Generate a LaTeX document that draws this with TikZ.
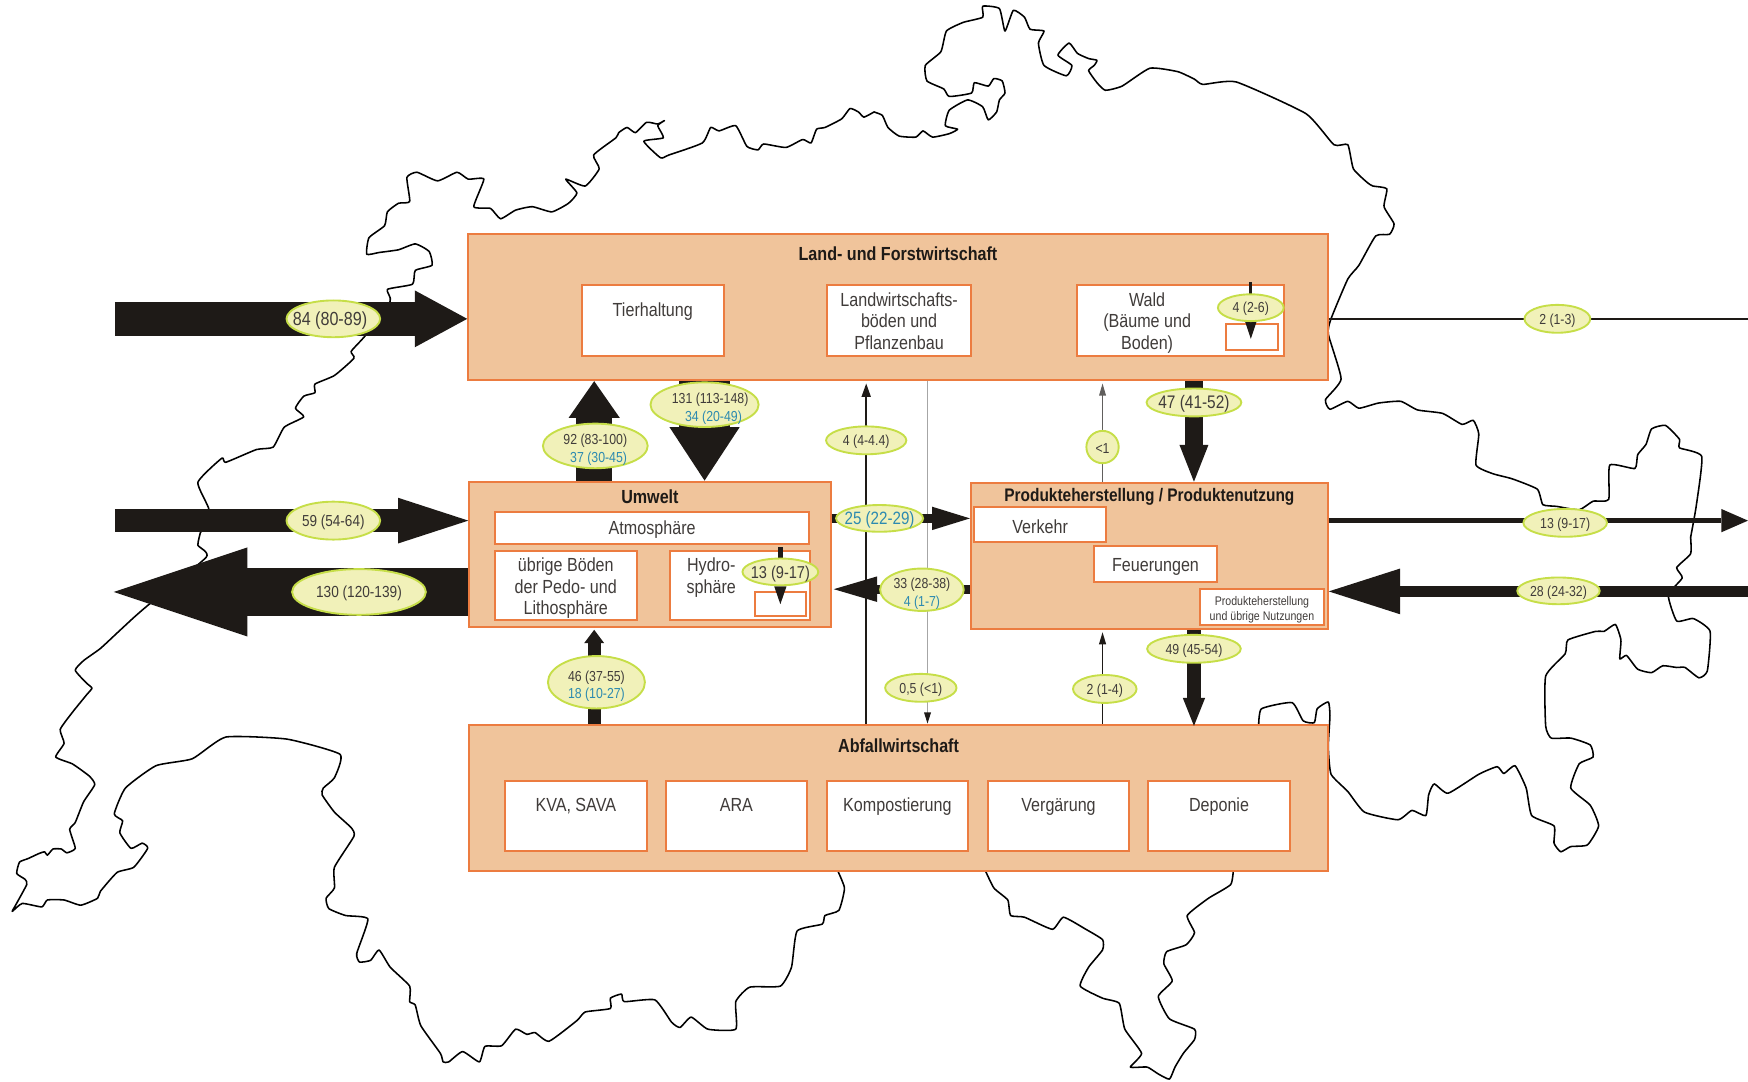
\documentclass[tikz,border=0pt]{standalone}
\usepackage{fontspec}
\setmainfont{Liberation Sans}[FakeStretch=0.85]
\usetikzlibrary{positioning, arrows.meta, shapes.geometric}
\definecolor{sectorfill}{HTML}{F0C49B}
\definecolor{sectorline}{HTML}{EC7C40}
\definecolor{pillfill}{HTML}{F1F1B9}
\definecolor{pillline}{HTML}{C6DE48}
\definecolor{ink}{HTML}{1E1A17}
\definecolor{lowblue}{HTML}{2C8AB0}
\tikzset{flow/.style n args={3}{color=ink, line width=#1, -{Triangle[length=#2,width=#3,line width=0pt]}}}
\newcommand{\pad}{\rule{0pt}{16.5pt}}

\begin{document}
\begin{tikzpicture}[x=1pt,y=-1pt]
    \tikzstyle{every node}=[font=\fontsize{17}{19.5}\selectfont, inner sep=0pt, text=ink!85]
    \tikzstyle{border} = [color=black, line width=1.4pt, line join=round, line cap=round]
    \tikzstyle{sector} = [rectangle, draw=sectorline, fill=sectorfill, line width=1.8pt, minimum width=771pt, minimum height=131pt]
    \tikzstyle{unit} = [rectangle, draw=sectorline, fill=white, line width=1.8pt, minimum width=127pt, minimum height=63pt]
    \tikzstyle{named} = [unit, text height=16pt]
    \tikzstyle{tag} = [anchor=north, align=center, yshift=-16pt]
    \tikzstyle{tagthree} = [anchor=north, align=center, yshift=-7pt]
    \tikzstyle{title} = [anchor=north, font=\fontsize{17}{19}\selectfont\bfseries, text=ink]
    \tikzstyle{pill} = [ellipse, draw=pillline, fill=pillfill, line width=1.7pt, inner xsep=-10pt, inner ysep=-8pt, font=\fontsize{13}{15.5}\selectfont]
    \tikzstyle{pillone} = [pill, text height=12pt]
    \tikzstyle{wire} = [color=ink, line width=1.6pt]
    \tikzstyle{pale} = [color=gray!70, line width=1pt]

    \useasboundingbox (0,0) rectangle (1568,970);

    % outline of the country
    \begin{scope}[xscale=.5,yscale=.309]
        \draw[border] plot[smooth,tension=.3] coordinates {(360,1545) (375,1480) (355,1400) (398,1330) (405,1342) (460,1305) (490,1298) (510,1240) (545,1210) (530,1185) (545,1150) (565,1140) (565,1115) (600,1090) (635,1040) (630,1020) (655,975) (700,875) (695,840) (740,825) (745,785) (775,770) (770,730) (745,708) (715,725) (680,733) (658,738) (662,690) (690,655) (695,615) (715,590) (735,585) (730,515) (748,500) (785,525) (820,500) (840,520) (868,520) (850,600) (880,605) (898,635) (925,610) (955,600) (990,615) (1020,590) (1035,560) (1015,520) (1050,540) (1075,490) (1065,450) (1105,400) (1110,385) (1125,370) (1140,385) (1160,355) (1180,360) (1192,350) (1180,365) (1190,400) (1155,410) (1185,458) (1200,450) (1260,415) (1275,370) (1290,380) (1320,365) (1340,425) (1360,435) (1370,418) (1410,428) (1440,405) (1455,415) (1465,375) (1480,370) (1510,345) (1525,315) (1540,325) (1550,340) (1568,325)};
    \end{scope}
    \begin{scope}[shift={(784,0)},xscale=.5,yscale=.309]
        \draw[border] plot[smooth,tension=.3] coordinates {(0,325) (15,335) (25,370) (45,395) (75,398) (88,380) (105,398) (135,388) (150,375) (128,365) (135,320) (168,290) (195,310) (205,348) (220,325) (225,290) (235,270) (230,235) (215,228) (205,250) (180,240) (175,270) (135,280) (125,258) (95,235) (92,190) (120,150) (130,90) (160,65) (195,50) (195,18) (225,25) (235,90) (250,30) (270,50) (280,85) (305,90) (295,125) (305,190) (345,220) (355,190) (330,160) (350,125) (365,155) (385,170) (400,175) (395,190) (385,205) (400,240) (415,262) (445,250) (495,198) (545,208) (575,230) (590,245) (650,238) (775,330) (825,420) (850,420) (860,490) (885,530) (895,540) (920,548) (915,600) (933,650) (925,680) (900,685) (870,770) (850,810) (820,925) (815,970) (838,1100) (810,1160) (818,1188) (850,1165) (870,1185) (905,1170) (945,1165) (975,1190) (1020,1200) (1055,1232) (1075,1220) (1085,1260) (1080,1350) (1110,1375) (1145,1390) (1190,1420) (1200,1465) (1225,1470) (1265,1480) (1290,1455) (1318,1450) (1320,1350) (1365,1360) (1370,1320) (1385,1290) (1395,1245) (1420,1235) (1445,1275) (1445,1300) (1485,1325) (1475,1470) (1465,1560)};
    \end{scope}
    \begin{scope}[shift={(784,484.4)},xscale=.5,yscale=.309]
        \draw[border] plot[smooth,tension=.3] coordinates {(1465,-8) (1465,40) (1440,80) (1450,110) (1425,160) (1440,235) (1470,228) (1500,265) (1495,380) (1480,400) (1455,370) (1440,370) (1415,365) (1395,385) (1370,375) (1350,335) (1338,345) (1340,290) (1330,245) (1310,265) (1295,265) (1245,290) (1240,330) (1205,395) (1205,540) (1215,575) (1250,575) (1285,595) (1290,630) (1265,650) (1250,720) (1285,770) (1300,830) (1280,885) (1250,890) (1232,905) (1220,880) (1220,830) (1180,800) (1170,720) (1150,655) (1130,678) (1118,658) (1085,680) (1030,735) (1005,708) (995,740) (990,800) (965,785) (940,812) (880,790) (850,730) (820,680) (815,600) (818,510) (815,470) (795,490) (790,530) (770,525) (750,472) (695,490) (690,545)};
        \draw[border] plot[smooth,tension=.3] coordinates {(645,950) (640,1000) (600,1040) (562,1090) (575,1140) (560,1175) (525,1195) (520,1230) (535,1280) (510,1325) (530,1390) (575,1420) (575,1450) (555,1490) (540,1530) (530,1565) (510,1550) (490,1530) (460,1530) (480,1490) (450,1420) (440,1345) (410,1330) (370,1295) (385,1240) (410,1190) (410,1160) (380,1130) (340,1095) (320,1130) (270,1095) (245,1090) (240,1045) (215,1010) (197,950)};
    \end{scope}
    \begin{scope}[shift={(0,484.4)},xscale=.5,yscale=.309]
        \draw[border] plot[smooth,tension=.3] coordinates {(1500,950) (1515,1010) (1505,1075) (1480,1090) (1475,1115) (1430,1135) (1420,1240) (1400,1295) (1345,1298) (1320,1340) (1320,1420) (1270,1420) (1240,1385) (1220,1415) (1205,1400) (1175,1335) (1120,1340) (1115,1318) (1095,1330) (1095,1360) (1050,1370) (1035,1395) (985,1455) (960,1430) (945,1435) (925,1420) (900,1468) (870,1470) (860,1515) (830,1485) (805,1515) (795,1515) (790,1490) (755,1410) (745,1350) (735,1340) (735,1295) (700,1240) (680,1190) (665,1220) (645,1225) (640,1200) (660,1100) (620,1090) (590,1070) (585,1040) (600,1010) (600,950) (635,860) (630,835) (600,790) (578,740) (580,720) (600,690) (610,622) (515,578) (405,572) (345,635) (280,655) (225,720) (205,795) (220,815) (215,850) (235,895) (255,880) (265,895) (240,950) (210,965) (180,1020) (175,1040) (145,1060) (115,1045) (85,1045) (75,1065) (40,1055) (22,1078) (28,1060) (48,1000) (45,985) (30,968) (35,935) (50,925) (70,910) (80,905) (85,915) (95,897) (110,897) (120,908) (135,895) (125,840) (135,820) (150,760) (170,710) (160,685) (130,650) (100,630) (115,590) (108,550) (130,500) (155,450) (165,430) (155,415) (135,378) (150,350) (180,315) (210,270) (240,225) (265,190) (370,50) (355,15) (360,-24)};
    \end{scope}

    % sectors
    \node[sector, label={[title,yshift=-12pt]north:Land- und Forstwirtschaft}] (land) at (805.5,275.5) {};
    \node[sector, minimum width=324pt, minimum height=130pt, label={[title,yshift=-8pt]north:Umwelt}] (umwelt) at (583,497) {};
    \node[sector, minimum width=320pt, minimum height=131pt, label={[title,yshift=-6pt,font=\fontsize{16.3}{19}\selectfont\bfseries]north:Produkteherstellung / Produktenutzung}] (produkt) at (1031,498.5) {};
    \node[sector, minimum width=770pt, label={[title,yshift=-13pt]north:Abfallwirtschaft}] (abfall) at (806,715.5) {};

    % units
    \node[unit, label={[tag]north:Tierhaltung}] (tier) at (585.5,287.5) {};
    \node[unit, minimum width=129pt, label={[tagthree]north:Landwirtschafts-\\böden und\\Pflanzenbau}] (boden) at (806.5,287.5) {};
    \node[unit, minimum width=186pt, label={[tagthree,xshift=-30pt]north:Wald\\(Bäume und\\Boden)}] (wald) at (1059,287.5) {};
    \node[unit, minimum width=46pt, minimum height=23pt] (waldstock) at (1123,302.5) {};
    \node[named, minimum width=282pt, minimum height=29pt] (atmo) at (585,473.5) {Atmosphäre};
    \node[unit, minimum height=62pt, label={[tagthree]north:übrige Böden\\der Pedo- und\\Lithosphäre}] (pedo) at (507.5,525) {};
    \node[unit, minimum width=126pt, minimum height=62pt, label={[tagthree,xshift=-26pt]north:Hydro-\\sphäre}] (hydro) at (664,525) {};
    \node[unit, minimum width=46pt, minimum height=22pt] (hydrostock) at (700,542) {};
    \node[named, minimum width=118pt, minimum height=31pt] (verkehr) at (933,470.5) {Verkehr};
    \node[named, minimum width=111pt, minimum height=32pt] (feuer) at (1036.5,506) {Feuerungen};
    \node[unit, minimum width=112pt, minimum height=33pt, font=\fontsize{11.2}{14}\selectfont, align=center] (herstellung) at (1132,544.5) {\rule{0pt}{13pt}Produkteherstellung\\und übrige Nutzungen};
    \node[unit, label={[tag]north:KVA, SAVA}] (kva) at (516.5,732) {};
    \node[unit, label={[tag]north:ARA}] (ara) at (660.5,732) {};
    \node[unit, minimum width=126pt, label={[tag]north:Kompostierung}] (kompost) at (805,732) {};
    \node[unit, label={[tag]north:Vergärung}] (vergaerung) at (949.5,732) {};
    \node[unit, label={[tag]north:Deponie}] (deponie) at (1093.5,732) {};

    % free ends and lanes of the flows
    \coordinate (in84) at (103,286);
    \coordinate (in59) at (103,467);
    \coordinate (out130) at (102,531);
    \coordinate (out2) at (1568,286);
    \coordinate (out13) at (1568,467);
    \coordinate (in28) at (1568,530.5);
    \coordinate (lane92) at (533,0);
    \coordinate (lane131) at (632,0);
    \coordinate (lane4) at (777,0);
    \coordinate (lane05) at (832,0);
    \coordinate (lane1) at (989,0);
    \coordinate (lane47) at (1071,0);
    \coordinate (row25) at (0,465);
    \coordinate (row33) at (0,528.5);
    \coordinate (waldtip) at (1122,304);
    \coordinate (hydrotip) at (700,542);

    % thin flows
    \draw[color=ink, line width=1.6pt, -{Triangle[length=12pt,width=8pt]}] (abfall.north -| lane4) -- ([yshift=-2pt]land.south -| lane4);
    \draw[pale, -{Triangle[length=10pt,width=6pt,color=ink]}] (land.south -| lane05) -- (abfall.north -| lane05);
    \draw[color=ink!70, line width=1.2pt, -{Triangle[length=11pt,width=6pt]}] (produkt.north -| lane1) -- ([yshift=-2pt]land.south -| lane1);
    \draw[wire, -{Triangle[length=11pt,width=6pt]}] (abfall.north -| lane1) -- ([yshift=-2pt]produkt.south -| lane1);
    \draw[wire] (in84 -| land.east) -- (out2);

    % block flows
    \draw[flow={30pt}{47pt}{51pt}] (in84) -- (in84 -| land.west);
    \draw[flow={20pt}{63pt}{41pt}] (in59) -- (in59 -| umwelt.west);
    \draw[flow={43pt}{120pt}{80pt}] (out130 -| umwelt.west) -- (out130);
    \draw[flow={32pt}{33pt}{46pt}] (umwelt.north -| lane92) -- (land.south -| lane92);
    \draw[flow={46pt}{48pt}{63pt}] (land.south -| lane131) -- (umwelt.north -| lane131);
    \draw[flow={12pt}{12pt}{18pt}] (abfall.north -| lane92) -- ([yshift=-2pt]umwelt.south -| lane92);
    \draw[flow={8pt}{34pt}{21pt}] (row25 -| umwelt.east) -- (row25 -| produkt.west);
    \draw[flow={8pt}{39pt}{23pt}] (row33 -| produkt.west) -- ([xshift=2pt]row33 -| umwelt.east);
    \draw[flow={16pt}{33pt}{26pt}] (land.south -| lane47) -- (produkt.north -| lane47);
    \draw[flow={12pt}{25pt}{20pt}] (produkt.south -| lane47) -- ([yshift=-2pt]abfall.north -| lane47);
    \draw[flow={4.5pt}{24pt}{21pt}] (out13 -| produkt.east) -- (out13);
    \draw[flow={10pt}{64pt}{41pt}] (in28) -- (in28 -| produkt.east);
    \draw[flow={3pt}{15pt}{10pt}] ([yshift=2pt]wald.north -| waldtip) -- (waldtip);
    \draw[flow={5pt}{16pt}{11pt}] ([yshift=2pt]hydro.north -| hydrotip) -- (hydrotip);

    % amounts
    \node[pillone, minimum width=84pt, minimum height=33pt, font=\fontsize{17}{19}\selectfont, text height=16pt] (p84) at (299,286) {84 (80-89)\hspace*{6pt}};
    \node[pillone, minimum width=84pt, minimum height=34pt, font=\fontsize{14.3}{17}\selectfont, text height=13.5pt] (p59) at (299,467) {59 (54-64)};
    \node[pillone, minimum width=120pt, minimum height=41pt, font=\fontsize{14.4}{17}\selectfont, text height=13.5pt] (p130) at (322,531) {130 (120-139)};
    \node[pill, minimum width=94pt, minimum height=40pt, align=center] (p92) at (534,400) {\pad 92 (83-100)\\\hspace*{6pt}\textcolor{lowblue}{37 (30-45)}};
    \node[pill, minimum width=97pt, minimum height=40pt, align=center] (p131) at (632,363) {\pad\hspace*{10pt}131 (113-148)\\\hspace*{16pt}\textcolor{lowblue}{34 (20-49)}};
    \node[pillone, minimum width=72pt, minimum height=25pt] (p4) at (777,395) {4 (4-4.4)};
    \node[pillone, minimum width=78pt, minimum height=24pt, font=\fontsize{16}{19}\selectfont, text=lowblue, text height=15pt] (p25) at (789,465) {25 (22-29)};
    \node[pill, minimum width=75pt, minimum height=38pt, align=center] (p33) at (827,529) {\pad 33 (28-38)\\\textcolor{lowblue}{4 (1-7)}};
    \node[pillone, minimum width=68pt, minimum height=24pt, font=\fontsize{15.4}{18}\selectfont, text height=14.5pt] (p13a) at (700,513) {13 (9-17)};
    \node[pill, minimum width=87pt, minimum height=47pt, align=center] (p46) at (535,612) {\pad 46 (37-55)\\\textcolor{lowblue}{18 (10-27)}};
    \node[pillone, minimum width=64pt, minimum height=25pt] (p05) at (826,617) {0,5 (<1)};
    \node[pillone, minimum width=57pt, minimum height=25pt] (p2a) at (991,618) {2 (1-4)};
    \node[pillone, minimum width=84pt, minimum height=25pt] (p49) at (1071,582) {49 (45-54)};
    \node[pillone, minimum width=29pt, minimum height=29pt] (p1) at (989,401) {<1};
    \node[pillone, minimum width=85pt, minimum height=25pt, font=\fontsize{16.3}{19}\selectfont, text height=15pt] (p47) at (1071,361) {47 (41-52)};
    \node[pillone, minimum width=59pt, minimum height=24pt] (p4b) at (1122,276) {4 (2-6)};
    \node[pillone, minimum width=59pt, minimum height=25pt] (p2b) at (1397,286) {2 (1-3)};
    \node[pillone, minimum width=75pt, minimum height=25pt] (p13b) at (1404,469) {13 (9-17)};
    \node[pillone, minimum width=74pt, minimum height=24pt] (p28) at (1398,530) {28 (24-32)};
\end{tikzpicture}
\end{document}
